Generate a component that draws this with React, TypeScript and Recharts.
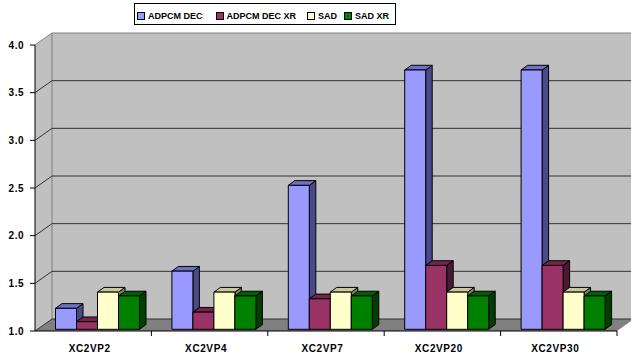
import { BarChart, Bar, XAxis, YAxis, CartesianGrid } from 'recharts';

const categories = ['XC2VP2', 'XC2VP4', 'XC2VP7', 'XC2VP20', 'XC2VP30'];
const adpcmDec = [1.22, 1.61, 2.51, 3.72, 3.72];
const adpcmDecXr = [1.08, 1.18, 1.32, 1.67, 1.67];
const sad = [1.39, 1.39, 1.39, 1.39, 1.39];
const sadXr = [1.35, 1.35, 1.35, 1.35, 1.35];
const yTicks = [1.0, 1.5, 2.0, 2.5, 3.0, 3.5, 4.0];

const series = [
    { key: 'adpcmDec', name: 'ADPCM DEC', values: adpcmDec, front: '#9999ff', top: '#7070c4', side: '#4a4a88' },
    { key: 'adpcmDecXr', name: 'ADPCM DEC XR', values: adpcmDecXr, front: '#993366', top: '#73264d', side: '#4c1933' },
    { key: 'sad', name: 'SAD', values: sad, front: '#ffffcc', top: '#c8c89c', side: '#808066' },
    { key: 'sadXr', name: 'SAD XR', values: sadXr, front: '#008000', top: '#006000', side: '#003f00' },
];

const data = categories.map((cat, i) => {
    const row: Record<string, any> = { cat };
    series.forEach((s) => {
        row[s.key] = s.values[i];
    });
    return row;
});

// depth of the chart box and of each column
const DX = 17;
const DY = 12;
const BDX = 6.5;
const BDY = 4.7;
const SHIFT_X = 4.5;
const SHIFT_Y = -1.7;

const FONT = '"Liberation Sans", Arial, sans-serif';

const Column3D = (props: any) => {
    const { x, y, width, height, colors } = props;
    if (width == null || height == null) return null;
    const x0 = x + SHIFT_X;
    const y0 = y + SHIFT_Y;
    const w = width;
    const h = height;
    return (
        <g stroke="#000" strokeWidth={1} strokeLinejoin="round">
            <polygon
                points={`${x0 + w},${y0} ${x0 + w + BDX},${y0 - BDY} ${x0 + w + BDX},${y0 + h - BDY} ${x0 + w},${y0 + h}`}
                fill={colors.side}
            />
            <polygon
                points={`${x0},${y0} ${x0 + BDX},${y0 - BDY} ${x0 + w + BDX},${y0 - BDY} ${x0 + w},${y0}`}
                fill={colors.top}
            />
            <rect x={x0} y={y0} width={w} height={h} fill={colors.front} />
        </g>
    );
};

const GridLine = (props: any) => {
    const { x1, x2, y1, index, y, height } = props;
    const top = y ?? 45;
    const bottom = (y ?? 45) + (height ?? 286);
    const isTop = Math.abs(y1 - top) < 0.5;
    return (
        <g key={`g-${index}`}>
            {index === 0 && (
                <g>
                    <polygon
                        points={`${x1},${bottom} ${x1},${top} ${x1 + DX},${top - DY} ${x1 + DX},${bottom - DY}`}
                        fill="#c0c0c0"
                    />
                    <rect x={x1 + DX} y={top - DY} width={x2 - x1 + 10} height={bottom - top} fill="#c0c0c0" />
                    <polygon
                        points={`${x1},${bottom} ${x2},${bottom} ${x2 + DX},${bottom - DY} ${x1 + DX},${bottom - DY}`}
                        fill="#808080"
                    />
                    <line x1={x1 + DX} y1={top - DY} x2={x1 + DX} y2={bottom - DY} stroke="#808080" />
                </g>
            )}
            <line
                x1={x1 + DX}
                y1={y1 - DY}
                x2={x2 + DX + 10}
                y2={y1 - DY}
                stroke={isTop ? '#808080' : '#333333'}
            />
            <line x1={x1} y1={y1} x2={x1 + DX} y2={y1 - DY} stroke={isTop ? '#808080' : '#333333'} />
        </g>
    );
};

const XTick = (props: any) => {
    const { x, y, payload } = props;
    const half = payload?.offset ?? 58.2;
    return (
        <g>
            <line x1={x + half} y1={y} x2={x + half} y2={y + 5} stroke="#000" />
            <text
                x={x - 3.5}
                y={y + 21}
                textAnchor="middle"
                fontFamily={FONT}
                fontWeight="bold"
                fontSize={10}
                letterSpacing={0.6}
                fill="#000"
            >
                {payload.value}
            </text>
        </g>
    );
};

const YTick = (props: any) => {
    const { x, y, payload } = props;
    return (
        <text
            x={x}
            y={y + 3.5}
            textAnchor="end"
            fontFamily={FONT}
            fontWeight="bold"
            fontSize={10}
            letterSpacing={0.5}
            fill="#000"
        >
            {Number(payload.value).toFixed(1)}
        </text>
    );
};

const ChartLegend = () => (
    <div
        style={{
            position: 'absolute',
            left: 134,
            top: 3,
            width: 262,
            height: 22,
            border: '1px solid #000',
            background: '#fff',
            boxSizing: 'border-box',
            display: 'flex',
            alignItems: 'center',
            paddingLeft: 2,
            paddingTop: 4,
            fontFamily: FONT,
            fontWeight: 'bold',
            fontSize: 9,
            lineHeight: '10px',
            color: '#000',
            whiteSpace: 'nowrap',
        }}
    >
        {series.map((s, i) => (
            <div
                key={s.key}
                style={{
                    display: 'flex',
                    alignItems: 'center',
                    flexShrink: 0,
                    marginRight: i === 0 ? 13 : i === 1 ? 11 : 7,
                }}
            >
                <span
                    style={{
                        display: 'inline-block',
                        width: 6,
                        height: 6,
                        border: '1px solid #000',
                        background: s.front,
                        marginRight: 3,
                        boxSizing: 'content-box',
                    }}
                />
                <span>{s.name}</span>
            </div>
        ))}
    </div>
);

const App = () => {
    return (
        <div style={{ position: 'absolute', left: 0, top: 0, width: 631, height: 356, background: '#fff' }}>
            <BarChart
                width={631}
                height={356}
                data={data}
                margin={{ top: 45, right: 14, left: 0, bottom: 0 }}
                barGap={0}
                barSize={21}
            >
                <CartesianGrid horizontal={GridLine} vertical={false} />
                <XAxis
                    dataKey="cat"
                    height={25}
                    axisLine={{ stroke: '#000' }}
                    tickLine={false}
                    tickSize={0}
                    tickMargin={0}
                    tick={<XTick />}
                    interval={0}
                />
                <YAxis
                    type="number"
                    domain={[1, 4]}
                    ticks={yTicks}
                    width={35}
                    allowDataOverflow
                    axisLine={{ stroke: '#000' }}
                    tickLine={{ stroke: '#000' }}
                    tickSize={5}
                    tickMargin={6}
                    tick={<YTick />}
                />
                {series.map((s) => (
                    <Bar
                        key={s.key}
                        dataKey={s.key}
                        name={s.name}
                        fill={s.front}
                        isAnimationActive={false}
                        shape={(p: any) => <Column3D {...p} colors={s} />}
                    />
                ))}
            </BarChart>
            <ChartLegend />
        </div>
    );
};

export default App;
